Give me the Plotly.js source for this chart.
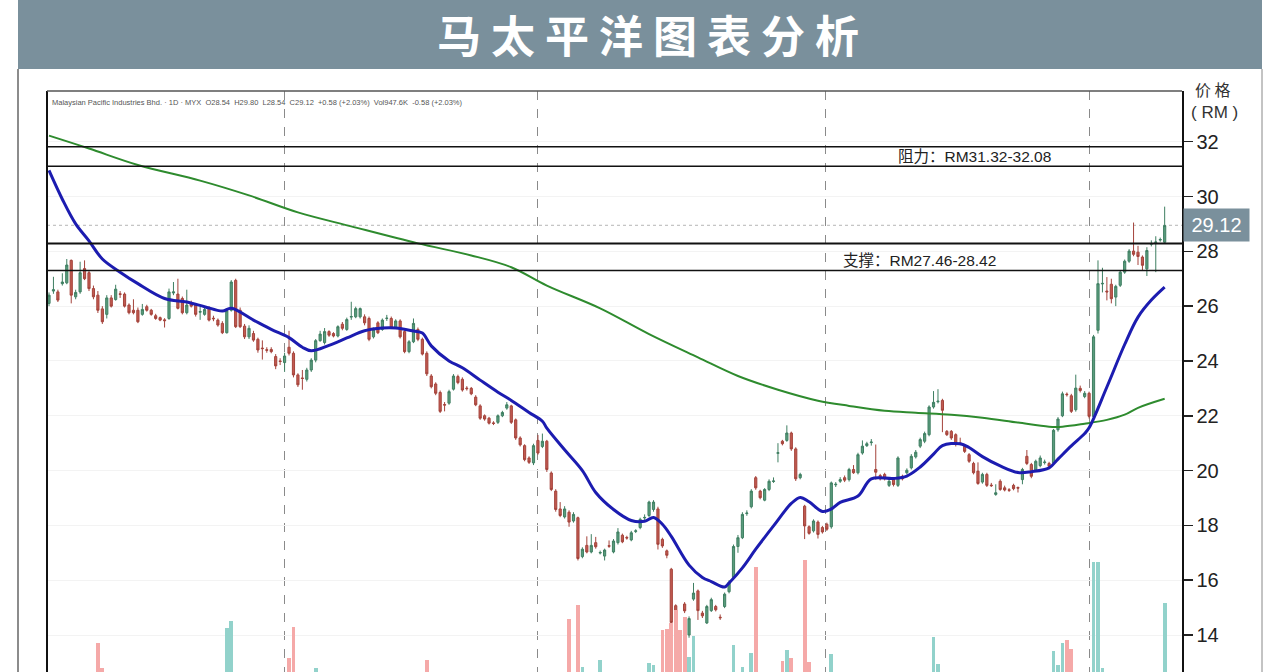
<!DOCTYPE html>
<html><head><meta charset="utf-8">
<script src="https://cdn.plot.ly/plotly-3.0.1.min.js"></script>
<style>html,body{margin:0;padding:0;background:#fff;}#chart{width:1280px;height:672px;}</style>
</head><body><div id="chart"></div>
<script>
// ---- Daily OHLC, index 0 = first visible candle ----
const open = [
26.1,26.55,26.52,26.82,26.85,27.67,26.34,26.52,27.37,27.22,
26.64,26.4,25.9,25.7,26.3,26.24,26.45,26.44,26.04,25.85,
25.85,25.7,25.98,25.85,25.65,25.58,25.5,25.55,26.48,26.44,
26.28,25.76,26.1,26.04,25.78,25.7,25.92,25.56,25.49,25.37,
25.03,25.85,26.94,25.85,25.27,24.88,25.0,24.79,24.47,24.41,
24.42,24.16,24.0,23.94,24.5,24.28,23.49,23.38,23.33,23.67,
24.03,24.74,24.67,25.07,25.0,24.91,25.34,25.15,25.6,25.61,
25.61,25.61,25.55,24.88,25.39,25.15,25.55,25.55,25.22,25.46,
25.07,24.34,24.7,25.15,24.79,24.28,23.45,23.16,22.85,22.41,
22.46,22.97,23.43,23.33,23.01,23.0,22.68,22.36,22.0,21.91,
21.74,21.76,22.0,22.28,22.36,21.85,21.19,20.91,20.46,20.28,
21.1,20.88,21.07,19.91,19.25,18.6,18.31,18.48,18.16,18.28,
16.86,17.27,17.03,17.37,16.99,16.88,17.26,17.03,17.37,17.64,
17.56,17.47,17.78,17.92,18.27,18.36,18.58,18.6,17.49,17.07,
16.4,15.07,13.67,15.13,14.0,15.31,15.61,14.8,14.44,14.89,
15.04,14.65,15.04,15.58,16.1,17.23,17.55,18.43,18.68,19.74,
19.25,18.92,19.31,19.6,20.63,21.07,21.1,21.37,20.79,19.74,
18.7,17.95,17.8,18.12,17.92,18.04,17.95,19.48,19.61,19.74,
19.67,20.04,19.92,20.64,20.91,21.02,20.04,19.82,19.86,19.46,
19.7,19.46,19.79,19.92,20.1,20.5,20.89,21.07,21.31,22.32,
22.51,22.56,21.43,21.43,21.31,21.01,20.89,20.58,20.26,19.98,
19.58,19.86,19.47,19.13,19.61,19.37,19.3,19.46,19.38,19.67,
20.52,20.22,20.01,20.18,20.29,20.26,20.28,21.49,22.0,22.79,
22.73,22.22,23.0,22.7,22.82,21.97,25.12,26.81,26.55,26.8,
26.33,26.76,27.24,27.64,28.01,27.97,27.79,27.36,28.26,28.32,28.41,28.33];
const high = [
26.5,27.07,26.6,27.2,27.72,27.7,26.6,27.62,27.67,27.3,
26.75,26.55,26.0,26.4,26.4,26.78,26.55,26.5,26.1,26.25,
25.95,26.08,26.05,25.9,25.72,25.62,25.56,26.64,26.88,27.0,
26.35,26.6,26.2,26.1,25.98,25.95,26.0,25.65,25.55,25.45,
25.9,26.95,27.0,25.95,25.35,25.3,25.1,24.85,24.75,24.5,
24.5,24.25,24.1,24.3,25.1,24.35,23.55,23.67,23.75,24.1,
24.8,25.1,25.2,25.12,25.05,25.3,25.42,25.58,26.16,25.98,
25.95,25.7,25.62,25.22,25.45,25.55,25.68,25.62,25.52,25.52,
25.12,24.76,25.55,25.22,24.85,24.35,23.52,23.22,22.92,22.5,
22.95,23.52,23.5,23.4,23.08,23.05,22.75,22.42,22.05,21.96,
21.8,22.05,22.18,22.5,22.4,21.9,21.25,20.96,20.52,20.98,
21.3,21.35,21.12,19.97,19.32,18.85,18.7,18.55,18.48,18.32,
17.2,17.6,17.68,17.58,17.08,17.15,17.45,17.5,17.9,17.7,
17.62,17.8,17.86,18.28,18.4,18.9,18.92,18.68,17.55,17.12,
16.45,15.12,13.75,15.2,14.68,15.9,15.66,14.88,15.1,15.36,
15.1,14.75,15.55,16.0,17.3,17.65,18.48,18.55,19.32,19.8,
19.3,19.36,19.68,19.75,21.0,21.12,21.65,21.42,20.85,19.92,
18.75,18.0,18.22,18.18,17.98,18.1,19.6,19.58,19.76,19.82,
20.1,20.2,20.65,21.1,21.05,21.15,20.95,19.88,19.92,19.68,
19.76,20.52,19.85,20.08,20.6,20.75,21.2,21.42,22.38,22.9,
22.97,22.62,21.48,21.48,21.36,21.2,20.95,20.64,20.32,20.3,
19.92,19.92,19.55,19.5,19.68,19.45,19.36,19.52,19.42,20.1,
20.75,20.28,20.4,20.55,20.4,20.32,21.52,21.95,22.88,22.85,
22.8,23.5,23.1,22.9,22.88,24.95,27.67,27.4,27.06,27.0,
26.78,27.3,27.7,28.08,29.05,28.2,27.85,28.15,28.4,28.55,28.5,29.63];
const low = [
26.0,26.45,26.15,26.75,26.8,26.1,26.25,26.45,26.95,26.55,
26.25,25.75,25.35,25.55,25.95,26.2,26.3,25.95,25.7,25.7,
25.38,25.65,25.8,25.65,25.5,25.45,25.22,25.5,26.4,25.88,
25.7,25.7,25.95,25.62,25.5,25.65,25.44,25.45,25.25,24.98,
25.0,25.8,25.2,25.2,24.8,24.8,24.7,24.3,24.05,24.3,
24.28,23.7,23.85,23.6,24.2,23.4,23.05,22.95,23.25,23.6,
23.95,24.7,24.6,24.88,24.86,24.86,25.12,25.1,25.5,25.56,
25.55,25.3,24.72,24.82,24.98,25.1,25.46,25.18,25.18,24.82,
24.28,24.28,24.65,24.72,24.2,23.45,23.0,22.75,22.1,22.16,
22.4,22.92,23.15,22.88,22.92,22.75,22.35,21.85,21.82,21.68,
21.66,21.7,21.95,22.22,21.7,21.12,20.88,20.34,20.24,20.2,
20.58,20.82,19.95,19.25,18.5,18.3,18.25,17.95,18.1,16.72,
16.8,16.98,16.98,17.15,16.94,16.72,17.18,16.98,17.3,17.35,
17.48,17.42,17.72,17.86,18.2,18.3,18.5,17.12,17.18,16.8,
14.4,13.75,13.3,14.8,13.9,15.25,14.55,14.62,14.4,14.84,
14.86,14.55,14.98,15.52,16.04,17.0,17.5,18.35,18.62,19.3,
18.95,18.88,19.25,19.55,20.3,20.92,21.05,20.72,19.62,19.68,
17.5,17.66,17.74,17.52,17.7,17.8,17.88,19.4,19.55,19.58,
19.6,19.88,19.86,20.58,20.86,20.91,19.67,19.64,19.64,19.4,
19.42,19.4,19.64,19.86,20.04,20.44,20.82,21.0,21.25,22.26,
22.45,21.4,21.26,21.12,20.88,20.92,20.64,20.28,19.86,19.48,
19.52,19.4,19.4,19.08,19.26,19.24,19.22,19.28,19.2,19.5,
20.2,19.72,19.95,20.12,20.22,20.1,20.22,21.42,21.95,22.7,
22.1,22.15,22.85,22.64,21.9,21.9,25.0,26.5,26.21,26.1,
26.0,26.7,27.18,27.58,27.82,27.5,27.3,27.1,28.18,27.24,28.35,28.3];
const close = [
26.4,26.6,26.22,26.88,27.5,26.4,26.5,27.22,27.0,26.64,
26.34,25.85,25.43,26.3,26.0,26.62,26.43,26.0,25.76,25.76,
25.43,25.88,25.85,25.7,25.55,25.49,25.47,26.52,26.52,25.92,
25.76,26.04,26.0,25.7,25.8,25.88,25.49,25.54,25.31,25.03,
25.83,26.88,25.25,25.25,24.88,25.19,24.76,24.4,24.45,24.39,
24.34,23.82,23.98,24.18,24.28,23.49,23.13,23.36,23.67,24.03,
24.74,24.98,25.07,24.94,24.91,25.25,25.19,25.51,25.62,25.91,
25.91,25.39,24.79,25.15,25.03,25.49,25.56,25.22,25.46,24.88,
24.34,24.7,25.37,24.79,24.25,23.53,23.06,22.82,22.16,22.39,
22.88,23.45,23.21,22.94,22.99,22.8,22.4,21.91,21.88,21.73,
21.72,22.0,22.12,22.4,21.76,21.19,20.94,20.4,20.3,20.91,
20.64,21.07,20.04,19.31,18.58,18.36,18.6,18.12,18.4,16.79,
17.13,17.03,17.27,17.22,17.01,17.1,17.24,17.43,17.76,17.4,
17.54,17.73,17.8,18.22,18.29,18.85,18.85,17.31,17.25,16.91,
14.46,13.85,13.49,14.88,14.6,15.53,14.89,14.7,15.04,15.29,
14.92,14.63,15.49,15.92,17.23,17.55,18.4,18.45,19.25,19.37,
19.01,19.31,19.61,19.62,20.65,20.98,21.37,20.79,19.7,19.86,
17.98,17.71,18.16,17.67,17.76,17.86,19.55,19.5,19.67,19.65,
20.04,19.92,20.58,20.89,20.98,21.04,19.94,19.7,19.7,19.61,
19.49,20.46,19.7,20.01,20.52,20.67,21.13,21.35,22.32,22.49,
22.53,22.2,21.31,21.19,20.95,20.99,20.7,20.34,19.92,19.53,
19.86,19.46,19.45,19.19,19.31,19.29,19.28,19.34,19.36,20.04,
20.26,19.79,20.34,20.46,20.31,20.16,21.47,21.88,22.8,22.77,
22.16,23.01,22.92,22.82,21.98,24.88,26.82,26.83,26.52,26.27,
26.72,27.24,27.64,28.01,27.89,27.81,27.49,28.03,28.28,28.34,28.43,28.94];

// ---- Visible volume bars (K shares) at candle indices ----
const volIdx = [11,12,40,41,54,55,60,85,117,119,120,124,135,136,138,139,140,141,142,143,144,145,154,156,158,159,165,166,167,170,171,176,199,200,226,227,228,229,230,235,236,237,251];
const volVal = [398,55,604,700,192,618,55,165,728,920,69,165,124,96,577,590,673,851,577,755,206,494,371,69,261,1442,151,302,192,1538,137,247,481,110,288,96,398,439,316,1510,1510,55,947.6];

// ---- Moving averages ----
const maFastIdx = [0,3,6,9,12,16,20,26,31,35,39,41,46,50,54,57,59,63,67,71,75,78,82,84,86,90,93,97,101,104,108,111,112,116,120,123,127,131,134,136,138,140,144,147,149,152,153,156,159,163,167,169,171,174,176,178,182,185,190,193,196,199,201,205,207,210,214,218,221,225,227,230,233,234,238,242,245,248,251];
const maFastVal = [30.95,29.9,29.0,28.38,27.72,27.24,26.82,26.28,26.15,25.98,25.82,25.92,25.49,25.15,24.85,24.5,24.37,24.57,24.84,25.1,25.2,25.2,25.09,25.02,24.55,24.0,23.75,23.3,22.86,22.56,22.12,21.8,21.55,20.76,20.0,19.2,18.58,18.18,18.15,18.29,18.04,17.6,16.55,16.1,15.95,15.75,15.9,16.45,17.13,17.98,18.8,19.02,18.86,18.51,18.6,18.84,19.07,19.7,19.71,19.8,20.13,20.6,20.91,20.98,20.84,20.51,20.17,19.93,19.96,20.1,20.42,20.9,21.35,21.56,23.05,24.6,25.6,26.22,26.69];
const maSlowIdx = [0,9,20,34,45,56,68,83,95,104,112,124,135,146,155,164,173,180,188,195,203,210,218,225,228,233,238,242,245,251];
const maSlowVal = [32.22,31.75,31.15,30.58,30.04,29.42,28.91,28.29,27.85,27.42,26.75,25.92,24.98,24.13,23.45,22.95,22.55,22.36,22.18,22.11,22.04,21.93,21.75,21.6,21.6,21.71,21.85,22.04,22.29,22.62];

// ---- Levels, ticks, texts ----
const levelLines = [31.82, 31.10, 28.29, 27.30];
const lastPriceLevel = 28.95;
const priceTicks = [14,16,18,20,22,24,26,28,30,32];
const priceTickText = ['14','16','18','20','22','24','26','28','30','32'];
const periodBreaks = [52.9, 110.0, 174.8, 234.0];
const titleText = '马 太 平 洋 图 表 分 析';
const headerText = 'Malaysian Pacific Industries Bhd. · 1D · MYX\u00a0 O28.54\u00a0 H29.80\u00a0 L28.54\u00a0 C29.12\u00a0 +0.58 (+2.03%)\u00a0 Vol947.6K\u00a0 -0.58 (+2.03%)';
const resistanceText = '阻力：RM31.32-32.08';
const supportText = '支撑：RM27.46-28.42';
const lastPriceText = '29.12';

// ---- geometry helpers (pixel -> paper) ----
const L = 47, R = 1182, T = 91, B = 672;
const px = x => (x - L) / (R - L);
const py = y => (B - y) / (B - T);

const idx = close.map((_, i) => i);
const volColors = volIdx.map(i => close[i] >= open[i] ? '#92d2cb' : '#f5a9a8');

const traces = [
  {type:'bar', x:volIdx, y:volVal, yaxis:'y2', marker:{color:volColors, line:{width:0}}, width:0.85, hoverinfo:'skip'},
  {type:'candlestick', x:idx, open:open, high:high, low:low, close:close,
   increasing:{line:{color:'#3f7f62', width:1}, fillcolor:'#5a9c7d'},
   decreasing:{line:{color:'#a4433b', width:1}, fillcolor:'#c25a50'},
   whiskerwidth:0, hoverinfo:'skip'},
  {type:'scatter', mode:'lines', x:maSlowIdx, y:maSlowVal, line:{color:'#2e8b2e', width:2, shape:'spline', smoothing:1}, hoverinfo:'skip'},
  {type:'scatter', mode:'lines', x:maFastIdx, y:maFastVal, line:{color:'#1c1cb0', width:3, shape:'spline', smoothing:1}, hoverinfo:'skip'}
];

const shapes = [
  {type:'rect', xref:'paper', yref:'paper', x0:px(18), x1:px(1262), y0:py(69), y1:py(0), fillcolor:'#7a909c', line:{width:0}, layer:'above'},
  {type:'line', xref:'paper', yref:'paper', x0:px(18), x1:px(18), y0:py(69), y1:py(672), line:{color:'#666', width:1.5}},
  {type:'line', xref:'paper', yref:'paper', x0:px(1262), x1:px(1262), y0:py(69), y1:py(672), line:{color:'#888', width:1}},
  {type:'line', xref:'paper', yref:'paper', x0:0, x1:0, y0:0, y1:1, line:{color:'#111', width:2}},
  {type:'line', xref:'paper', yref:'paper', x0:0, x1:1, y0:1, y1:1, line:{color:'#555', width:1.5}},
  {type:'line', xref:'paper', yref:'y', x0:0, x1:1, y0:lastPriceLevel, y1:lastPriceLevel, line:{color:'#b5b5b5', width:1, dash:'dot'}, layer:'below'}
].concat(levelLines.map((v, k) => ({type:'line', xref:'paper', yref:'y', x0:0, x1:1, y0:v, y1:v, line:{color:'#111', width: k === 2 ? 2 : 1.5}})));

const annotations = [
  {xref:'paper', yref:'paper', x:px(648), y:py(34), text:titleText, showarrow:false, xanchor:'center', yanchor:'middle',
   font:{family:'Noto Sans CJK SC', size:44, color:'#ffffff', weight:700}},
  {xref:'paper', yref:'paper', x:px(50), y:py(102), text:headerText, showarrow:false, xanchor:'left', yanchor:'middle',
   font:{family:'Liberation Sans, sans-serif', size:7.5, color:'#555'}},
  {xref:'paper', yref:'paper', x:px(1213), y:py(89), text:'价 格', showarrow:false, xanchor:'center', yanchor:'middle',
   font:{family:'Noto Sans CJK SC', size:16, color:'#333'}},
  {xref:'paper', yref:'paper', x:px(1214), y:py(112), text:'( RM )', showarrow:false, xanchor:'center', yanchor:'middle',
   font:{family:'Liberation Sans, sans-serif', size:17, color:'#333'}},
  {xref:'paper', yref:'y', x:px(896), y:(levelLines[0]+levelLines[1])/2, text:resistanceText, showarrow:false, xanchor:'left', yanchor:'middle',
   font:{family:'Liberation Sans, Noto Sans CJK SC, sans-serif', size:15.5, color:'#222'}},
  {xref:'paper', yref:'y', x:px(841), y:27.66, text:supportText, showarrow:false, xanchor:'left', yanchor:'middle',
   font:{family:'Liberation Sans, Noto Sans CJK SC, sans-serif', size:15.5, color:'#222'}},
  {xref:'paper', yref:'y', x:px(1183), y:lastPriceLevel, text:lastPriceText, showarrow:false, xanchor:'left', yanchor:'middle',
   bgcolor:'#7a909c', width:63, height:30, borderpad:1,
   font:{family:'Liberation Sans, sans-serif', size:20, color:'#ffffff'}}
];

const layout = {
  width:1280, height:672, margin:{l:L, r:1280-R, t:T, b:0, pad:0},
  paper_bgcolor:'#ffffff', plot_bgcolor:'#ffffff', showlegend:false, bargap:0,
  xaxis:{range:[-0.45, 254.9], showticklabels:false, ticks:'', tickvals:periodBreaks, showgrid:true,
         gridcolor:'#8a8a8a', griddash:'dash', gridwidth:1, zeroline:false, showline:false,
         rangeslider:{visible:false}, fixedrange:true},
  yaxis:{side:'right', range:[12.65, 33.85], tickvals:priceTicks, ticktext:priceTickText, ticks:'outside',
         ticklen:9, tickwidth:1.5, tickcolor:'#222', tickfont:{family:'Liberation Sans, sans-serif', size:20, color:'#222'},
         showline:true, linecolor:'#111', linewidth:1.5, showgrid:true, gridcolor:'#f3f3f3', zeroline:false},
  yaxis2:{overlaying:'y', range:[0, 7977], visible:false, fixedrange:true},
  shapes:shapes, annotations:annotations
};

Plotly.newPlot('chart', traces, layout, {staticPlot:true, displayModeBar:false});
</script>
</body></html>
